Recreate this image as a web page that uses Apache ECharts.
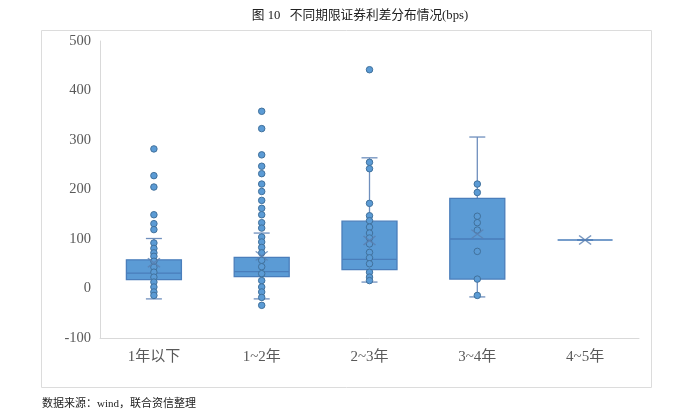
<!DOCTYPE html>
<html>
<head>
<meta charset="utf-8">
<script src="https://cdn.jsdelivr.net/npm/echarts@6/dist/echarts.min.js"></script>
<style>
html,body{margin:0;padding:0;background:#fff;}
#c{width:700px;height:414px;}
</style>
</head>
<body>
<div id="c"></div>
<script>
var categories = ['1年以下', '1~2年', '2~3年', '3~4年', '4~5年'];
var yTicks = [-100, 0, 100, 200, 300, 400, 500];
var whiskerMin = [-21, -21, 13, -17, 98];
var q1 = [18, 24, 38, 19, 98];
var median = [31, 34, 59, 100, 98];
var q3 = [58, 63, 136, 182, 98];
var whiskerMax = [101, 112, 264, 306, 98];
var means = [52, 66, 97, 110, 98];
var points0 = [282, 228, 205, 149, 131, 119, 92, 81, 72, 65, 55, 43, 33, 23, 13, 3, -7, -14];
var points1 = [358, 323, 270, 247, 232, 211, 196, 178, 162, 149, 133, 122, 104, 94, 83, 72, 57, 44, 30, 16, 3, -7, -18, -34];
var points2 = [442, 255, 242, 172, 147, 137, 124, 112, 102, 90, 73, 62, 50, 33, 23, 16];
var points3 = [211, 194, 146, 133, 118, 75, 19, -14];
var points4 = [];

var allPoints = [points0, points1, points2, points3, points4];
var scatterData = [];
allPoints.forEach(function (arr, i) {
  arr.forEach(function (v) { scatterData.push([i, v]); });
});
var boxData = categories.map(function (c, i) {
  return [q1[i], q1[i], median[i], q3[i], q3[i]];
});
var whiskerData = categories.map(function (c, i) {
  return [i, whiskerMin[i], q1[i], q3[i], whiskerMax[i]];
});
var meanData = means.map(function (m, i) { return [i, m]; });

var serif = '"Liberation Serif", "Noto Sans CJK SC", serif';
var chart = echarts.init(document.getElementById('c'));
chart.setOption({
  animation: false,
  backgroundColor: '#fff',
  title: {
    text: '图 10   不同期限证券利差分布情况(bps)',
    left: 355,
    textAlign: 'center',
    top: 4,
    textStyle: { fontFamily: serif, fontSize: 12.7, fontWeight: 'normal', color: '#222' }
  },
  graphic: [
    { type: 'rect', shape: { x: 41.5, y: 30.5, width: 610, height: 357 },
      style: { fill: 'none', stroke: '#dcdcdc', lineWidth: 1 }, z: -1 },
    { type: 'text', left: 42, top: 399,
      style: { text: '数据来源：wind，联合资信整理', font: '11px ' + serif, fill: '#222' } }
  ],
  grid: { left: 100, right: 61, top: 41, bottom: 76 },
  xAxis: {
    type: 'category',
    data: categories,
    axisLine: { onZero: false, lineStyle: { color: '#d9d9d9', width: 1 } },
    axisTick: { show: false },
    axisLabel: { color: '#595959', fontSize: 15, fontFamily: serif, margin: 12 },
    splitLine: { show: false }
  },
  yAxis: {
    type: 'value',
    min: yTicks[0],
    max: yTicks[yTicks.length - 1],
    interval: 100,
    axisLine: { show: true, lineStyle: { color: '#d9d9d9', width: 1 } },
    axisTick: { show: false },
    axisLabel: { color: '#595959', fontSize: 14.5, fontFamily: serif, margin: 9 },
    splitLine: { show: false }
  },
  series: [
    {
      type: 'custom',
      data: whiskerData,
      z: 1,
      renderItem: function (params, api) {
        var x = api.value(0);
        var pMin = api.coord([x, api.value(1)]);
        var pQ1 = api.coord([x, api.value(2)]);
        var pQ3 = api.coord([x, api.value(3)]);
        var pMax = api.coord([x, api.value(4)]);
        var hw = 8;
        var st = { stroke: '#6f8fbd', lineWidth: 1.3, fill: 'none' };
        return {
          type: 'group',
          children: [
            { type: 'line', shape: { x1: pMin[0], y1: pMin[1], x2: pQ1[0], y2: pQ1[1] }, style: st },
            { type: 'line', shape: { x1: pQ3[0], y1: pQ3[1], x2: pMax[0], y2: pMax[1] }, style: st },
            { type: 'line', shape: { x1: pMin[0] - hw, y1: pMin[1], x2: pMin[0] + hw, y2: pMin[1] }, style: st },
            { type: 'line', shape: { x1: pMax[0] - hw, y1: pMax[1], x2: pMax[0] + hw, y2: pMax[1] }, style: st }
          ]
        };
      }
    },
    {
      type: 'boxplot',
      data: boxData,
      boxWidth: [55, 55],
      z: 2,
      itemStyle: { color: '#5b9bd5', borderColor: '#4a7ebb', borderWidth: 1.3 }
    },
    {
      type: 'scatter',
      data: scatterData,
      symbol: 'circle',
      symbolSize: 6.5,
      z: 3,
      itemStyle: { color: '#5b9bd5', borderColor: '#41719c', borderWidth: 1, opacity: 1 }
    },
    {
      type: 'scatter',
      data: meanData,
      symbol: 'path://M0,0L10,8M10,0L0,8',
      symbolSize: [12, 9],
      z: 4,
      itemStyle: { color: 'none', borderColor: '#5a7fb0', borderWidth: 1.3 }
    }
  ]
});
</script>
</body>
</html>
